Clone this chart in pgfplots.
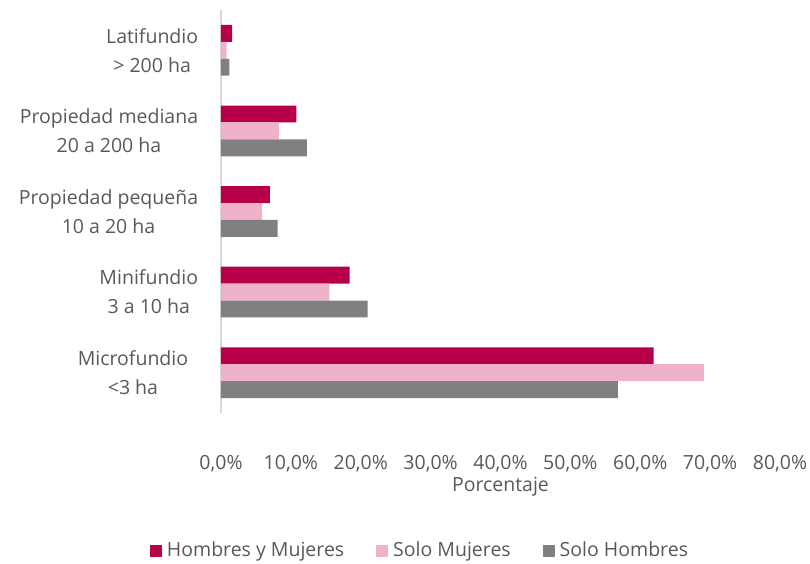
\documentclass[border=0pt]{standalone}
\usepackage{pgfplots}
\pgfplotsset{compat=1.18}
\usepackage{fontspec}
\setmainfont{Open Sans}
\definecolor{hym}{RGB}{184,0,74}
\definecolor{sm}{RGB}{240,178,203}
\definecolor{sh}{RGB}{128,128,128}
\definecolor{txt}{RGB}{89,89,89}
\definecolor{axl}{RGB}{217,217,217}
\begin{document}
\fontsize{20bp}{28bp}\selectfont
\begin{tikzpicture}
\useasboundingbox (-221bp,-151bp) rectangle (589bp,413bp);
\begin{axis}[
  at={(0,0)}, anchor=south west,
  scale only axis, width=559bp, height=403bp,
  xmin=0, xmax=80, ymin=-0.5, ymax=4.5,
  xbar, bar width=0.21,
  axis x line*=bottom, axis y line*=left,
  x axis line style={draw=none},
  y axis line style={draw=axl, line width=1.5bp},
  major tick length=0pt,
  xtick={0,10,...,80},
  xticklabels={{0,0\%},{10,0\%},{20,0\%},{30,0\%},{40,0\%},{50,0\%},{60,0\%},{70,0\%},{80,0\%}},
  xticklabel style={anchor=center, yshift=-51bp, font=\fontsize{19.5bp}{23bp}\selectfont, text=txt},
  ytick={0,1,2,3,4},
  yticklabels={{Microfundio\hspace*{10bp}\\<3 ha\hspace*{10bp}},{Minifundio\\3 a 10 ha},{Propiedad pequeña\\10 a 20 ha},{Propiedad mediana\\20 a 200 ha},{Latifundio\\> 200 ha}},
  yticklabel style={align=center, anchor=east, xshift=-16bp, font=\fontsize{19.5bp}{29bp}\selectfont, text=txt},
  xlabel={Porcentaje},
  xlabel style={at={(axis description cs:0.5,-0.182)}, anchor=center, font=\fontsize{19.5bp}{23bp}\selectfont, text=txt},
  legend style={at={(axis description cs:0.356,-0.342)}, anchor=center, draw=none, fill=none,
    legend columns=3, font=\fontsize{19.5bp}{23bp}\selectfont, text=txt,
    /tikz/every even column/.append style={column sep=30bp}},
  legend cell align=left,
  legend image code/.code={\fill[#1] (0bp,-6bp) rectangle (12bp,6bp); \path (15bp,0bp);},
]
\addplot[fill=hym, draw=none, bar shift=0.21] coordinates {(61.9,0) (18.4,1) (7.0,2) (10.8,3) (1.6,4)};
\addplot[fill=sm, draw=none, bar shift=0] coordinates {(69.1,0) (15.5,1) (5.9,2) (8.3,3) (0.8,4)};
\addplot[fill=sh, draw=none, bar shift=-0.21] coordinates {(56.8,0) (21.0,1) (8.1,2) (12.3,3) (1.2,4)};
\legend{Hombres y Mujeres, Solo Mujeres, Solo Hombres}
\end{axis}
\end{tikzpicture}
\end{document}
